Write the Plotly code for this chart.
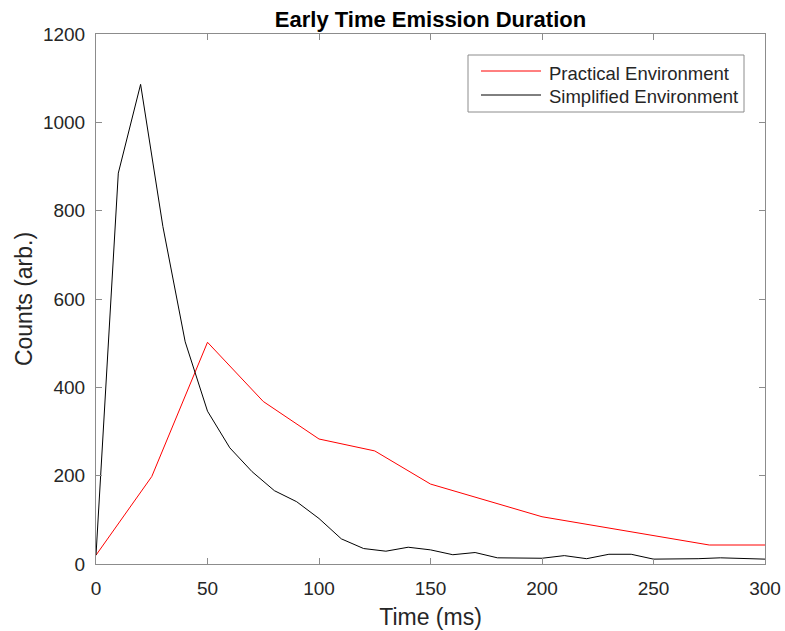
import plotly.graph_objects as go

# Practical environment measurement (time in ms, counts in arbitrary units)
practical_t = [0, 25, 50, 75, 100, 125, 150, 200, 275, 300]
practical_counts = [20, 198, 502, 368, 283, 256, 181, 107, 43, 43]

# Simplified environment measurement, sampled every 10 ms
simplified_t = list(range(0, 301, 10))
simplified_counts = [20, 885, 1086, 764, 503, 346, 263, 209, 166, 141, 103,
                     57, 35, 29, 38, 32, 21, 26, 14, 14, 13,
                     19, 12, 22, 22, 11, 11, 12, 14, 12, 11]

x_ticks = [0, 50, 100, 150, 200, 250, 300]
y_ticks = [0, 200, 400, 600, 800, 1000, 1200]

series_names = ["Practical Environment", "Simplified Environment"]
series_colors = ["#ff0000", "#000000"]

font_family = "Liberation Sans, Arial, sans-serif"
text_color = "#262626"
axis_color = "#8c8c8c"

W, H = 785, 631
ML, MR, MT, MB = 96, 20, 34, 67

fig = go.Figure()
fig.add_trace(go.Scatter(x=practical_t, y=practical_counts, mode="lines",
                         name=series_names[0], showlegend=False,
                         line=dict(color=series_colors[0], width=1)))
fig.add_trace(go.Scatter(x=simplified_t, y=simplified_counts, mode="lines",
                         name=series_names[1], showlegend=False,
                         line=dict(color=series_colors[1], width=1)))

axis_common = dict(showgrid=False, zeroline=False, showline=True, automargin=False,
                   linecolor=axis_color, linewidth=1, mirror="ticks",
                   ticks="inside", ticklen=6, tickcolor=axis_color,
                   tickfont=dict(size=19, color=text_color, family=font_family))

fig.update_xaxes(range=[0, 300], tickvals=x_ticks, ticklabelstandoff=7,
                 title=dict(text="Time (ms)", font=dict(size=23, color=text_color, family=font_family),
                            standoff=11),
                 **axis_common)
fig.update_yaxes(range=[0, 1200], tickvals=y_ticks, ticklabelstandoff=6,
                 title=dict(text="Counts (arb.)", font=dict(size=23, color=text_color, family=font_family),
                            standoff=3),
                 **axis_common)

# Legend box drawn in pixel space (converted to paper coordinates)
def px_x(p):
    return (p - ML) / (W - ML - MR)

def px_y(p):
    return 1 - (p - MT) / (H - MT - MB)

shapes = [dict(type="rect", xref="paper", yref="paper",
               x0=px_x(468), x1=px_x(744), y0=px_y(112), y1=px_y(55),
               line=dict(color=axis_color, width=1), fillcolor="white", layer="above")]
annotations = []
row_y = [71, 95]
for name, color, yy in zip(series_names, series_colors, row_y):
    shapes.append(dict(type="line", xref="paper", yref="paper",
                       x0=px_x(481), x1=px_x(541), y0=px_y(yy), y1=px_y(yy),
                       line=dict(color=color, width=1), layer="above"))
    annotations.append(dict(text=name, xref="paper", yref="paper",
                            x=px_x(547), y=px_y(yy + 2), xanchor="left", yanchor="middle",
                            showarrow=False,
                            font=dict(size=18.5, color=text_color, family=font_family)))

fig.update_layout(
    width=W, height=H,
    margin=dict(l=ML, r=MR, t=MT, b=MB),
    paper_bgcolor="white", plot_bgcolor="white",
    title=dict(text="<b>Early Time Emission Duration</b>", x=0.5, xanchor="center",
               xref="paper", y=1 - 19 / H, yanchor="middle",
               font=dict(size=22, color="#000000", family=font_family)),
    shapes=shapes,
    annotations=annotations,
    showlegend=False,
)

fig.write_html("out.html")
